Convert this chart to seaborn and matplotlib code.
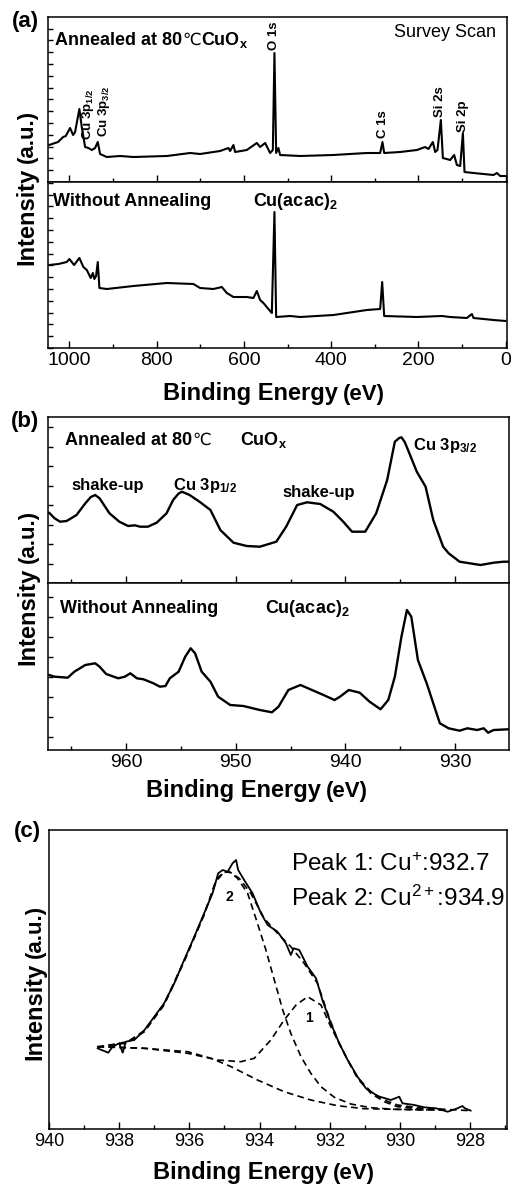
import numpy as np
import pandas as pd
import matplotlib
matplotlib.use("Agg")
import matplotlib.pyplot as plt
import seaborn as sns
from matplotlib.ticker import MultipleLocator, NullLocator, NullFormatter

# ---------------- data ----------------
# (a) survey scan, annealed CuOx
surv_ann_E = [1046.5, 1025.9, 1014.4, 1008.2, 998.4, 991.5, 986.9, 977.1, 971.6, 964.0,
              956.4, 948.6, 941.1, 934.9, 929.6, 914.3, 883.8, 853.3, 776.7, 723.3,
              700.4, 654.5, 635.5, 631.6, 624.0, 620.1, 593.3, 570.4, 562.8, 551.3,
              539.9, 533.7, 530.0, 526.1, 520.9, 517.0, 471.1, 395.5, 318.2, 287.7,
              282.4, 278.5, 241.9, 203.6, 184.5, 177.0, 166.9, 161.6, 156.3, 148.6,
              144.0, 127.2, 118.1, 111.9, 104.3, 98.1, 94.4, 73.8, 28.0, 20.2, 12.6, 0.0]
surv_ann_I = [37, 40, 45, 46, 54, 47, 50, 73, 55, 35,
              34, 32, 34, 40, 28, 25, 26, 25, 26, 29,
              28, 31, 34, 31, 37, 30, 32, 39, 35, 39,
              29, 32, 129, 29, 34, 27, 26, 27, 29, 29,
              40, 29, 30, 32, 35, 33, 40, 30, 32, 62,
              24, 22, 27, 17, 16, 49, 10, 9, 7, 9, 6, 6]

# (a) survey scan, Cu(acac)2 without annealing
surv_raw_E = [1046.5, 1025.2, 1006.0, 1000.0, 989.2, 977.1, 967.9, 960.1, 951.0, 946.3,
              942.7, 938.8, 934.9, 931.2, 914.3, 853.3, 776.7, 715.7, 700.4, 669.9,
              650.6, 639.2, 624.0, 593.3, 578.2, 570.4, 562.8, 555.3, 539.9, 536.0,
              530.0, 526.1, 494.0, 471.1, 394.7, 318.2, 287.7, 283.1, 278.5, 203.6,
              146.3, 127.2, 89.0, 77.5, 73.8, 28.0, 0.0]
surv_raw_I = [83, 84, 86, 89, 83, 90, 81, 78, 70, 75,
              69, 72, 86, 60, 59, 62, 65, 64, 60, 59,
              61, 55, 51, 51, 50, 57, 48, 45, 37, 35,
              136, 31, 32, 31, 33, 38, 39, 66, 32, 31,
              32, 31, 30, 34, 30, 28, 27]

# (b) Cu 3p region, annealed CuOx
cu_ann_E = [967.0, 966.5, 966.0, 965.4, 964.5, 963.7, 963.2, 962.8, 962.4, 961.5, 960.6,
            959.8, 959.2, 958.7, 958.0, 957.2, 956.3, 955.7, 955.2, 954.9, 954.2, 953.3,
            952.3, 951.4, 950.2, 949.0, 947.8, 946.3, 945.4, 944.4, 943.5, 942.3,
            941.1, 940.2, 939.4, 938.2, 937.2, 936.2, 935.5, 935.1, 934.9, 934.6, 934.3, 933.5,
            932.7, 932.0, 931.1, 930.6, 929.6, 927.7, 926.5, 925.6, 925.1]
cu_ann_I = [70.3, 64.7, 61.3, 62.0, 68.0, 79.7, 86.0, 88.0, 84.7, 69.7, 61.3,
            57.0, 57.7, 56.3, 56.3, 60.3, 69.7, 83.0, 89.5, 91.3, 88.0, 81.3,
            73.0, 53.0, 40.3, 37.0, 36.3, 41.3, 56.3, 78.0, 80.7, 79.0,
            71.3, 61.3, 51.3, 51.3, 69.7, 103.0, 141.3, 145.0, 145.7, 141.0, 133.0, 111.3,
            96.3, 63.0, 36.3, 29.7, 21.3, 18.0, 20.3, 21.3, 21.3]

# (b) Cu 3p region, Cu(acac)2
cu_raw_E = [967.0, 966.5, 965.3, 964.7, 963.7, 962.8, 962.4, 961.8, 960.7, 960.1,
            959.6, 959.0, 958.4, 957.5, 956.9, 956.4, 956.0, 955.2, 954.6, 954.1,
            953.7, 953.1, 952.3, 951.6, 950.5, 949.3, 947.8, 946.7, 946.1, 945.2,
            944.1, 943.2, 942.0, 941.0, 940.5, 939.7, 938.7, 937.8, 936.8, 936.1,
            935.5, 934.9, 934.4, 934.0, 933.4, 932.6, 931.8, 931.4, 930.6, 929.6,
            928.9, 928.0, 927.4, 927.0, 926.5, 925.2]
cu_raw_I = [75.0, 73.3, 72.3, 78.3, 85.0, 86.7, 83.3, 76.0, 71.7, 73.3,
            76.7, 71.7, 70.7, 66.7, 63.3, 64.0, 71.7, 78.3, 93.3, 101.7,
            96.7, 78.3, 68.3, 53.3, 45.0, 44.0, 40.0, 37.7, 43.3, 60.0,
            65.0, 60.7, 55.0, 50.0, 53.3, 60.0, 57.3, 48.3, 40.7, 50.0,
            73.3, 113.3, 140.0, 133.3, 90.0, 66.7, 40.0, 26.7, 21.7, 19.3,
            21.7, 20.0, 21.7, 17.3, 20.0, 20.7]

# (c) Cu 2p3/2 fit: measured
fit_meas_E = [938.62, 938.31, 938.19, 938.00, 937.90, 937.81, 937.57, 937.28, 937.00, 936.72,
              936.43, 936.15, 935.86, 935.58, 935.34, 935.18, 935.05, 934.91, 934.77, 934.67,
              934.61, 934.44, 934.20, 933.96, 933.77, 933.49, 933.25, 933.11, 933.03, 932.87,
              932.63, 932.39, 932.21, 931.97, 931.73, 931.49, 931.21, 930.97, 930.64, 930.26,
              930.02, 929.93, 929.59, 929.31, 928.97, 928.64, 928.36, 928.22, 928.15, 927.98]
fit_meas_I = [80.7, 76.3, 82.3, 85.7, 76.3, 87.3, 89.0, 99.0, 112.3, 125.7,
              145.7, 169.0, 192.3, 215.7, 235.7, 255.7, 259.0, 257.3, 265.7, 269.0,
              259.0, 249.0, 235.7, 215.7, 204.0, 197.3, 185.7, 174.0, 180.7, 179.0,
              162.3, 150.7, 129.0, 105.7, 85.7, 69.0, 52.3, 40.7, 33.0, 29.0,
              32.3, 25.7, 24.0, 21.7, 20.7, 17.3, 20.7, 23.0, 20.7, 18.3]
# envelope of the fit
fit_env_E = [938.62, 937.76, 937.28, 936.72, 936.15, 935.58, 935.24, 935.01, 934.81, 934.58,
             934.25, 933.87, 933.49, 933.11, 932.73, 932.35, 932.06, 931.78, 931.49, 931.21,
             930.83, 930.45, 930.07, 929.50, 928.74, 927.98]
fit_env_I = [81.7, 87.3, 98.3, 125.0, 168.3, 215.0, 247.3, 257.3, 256.3, 250.7,
             235.7, 210.7, 195.7, 182.3, 165.7, 145.7, 115.7, 89.0, 69.0, 51.7,
             37.3, 29.0, 24.0, 21.3, 19.7, 18.3]
# background
fit_bg_E = [938.62, 937.28, 936.05, 935.38, 934.81, 934.06, 933.30, 932.54, 931.78, 931.02,
            930.16, 929.21, 928.74]
fit_bg_I = [82.3, 80.7, 77.3, 70.7, 62.3, 49.0, 37.3, 29.0, 23.3, 20.3, 19.7, 19.0, 19.0]
# peak 1 (Cu+) on background
fit_p1_E = [938.62, 937.28, 936.05, 935.20, 934.53, 934.15, 933.68, 933.30, 932.96, 932.63,
            932.25, 931.97, 931.73, 931.49, 931.21, 930.83, 930.45, 930.07, 929.50, 928.74]
fit_p1_I = [82.3, 80.7, 75.7, 69.0, 67.3, 70.7, 89.0, 109.0, 124.0, 132.3,
            124.0, 102.3, 85.7, 69.0, 50.7, 35.7, 27.3, 22.3, 20.3, 19.0]
# peak 2 (Cu2+) on background
fit_p2_E = [938.62, 937.81, 937.28, 936.72, 936.15, 935.58, 935.24, 935.05, 934.86, 934.63,
            934.34, 934.06, 933.82, 933.58, 933.34, 933.11, 932.82, 932.54, 932.25, 931.87,
            931.40, 930.83, 930.16, 929.21]
fit_p2_I = [82.3, 85.7, 97.3, 124.0, 167.3, 214.0, 249.0, 256.3, 257.3, 250.7,
            235.7, 205.7, 179.0, 149.0, 119.0, 95.7, 72.3, 55.7, 42.3, 31.7,
            25.0, 21.3, 19.7, 19.0]

survey_ticks = [1000, 800, 600, 400, 200, 0]
cu3p_ticks = [960, 950, 940, 930]
cu2p_ticks = [940, 938, 936, 934, 932, 930, 928]

survey_peaks = [("O 1s", 530.0, 132), ("Cu 3p$_{\\mathbf{1/2}}$", 957.0, 42),
                ("Cu 3p$_{\\mathbf{3/2}}$", 920.4, 45), ("C 1s", 280.8, 44),
                ("Si 2s", 150.2, 65), ("Si 2p", 97.4, 50)]

# ---------------- style ----------------
sns.set_theme(style="ticks")
plt.rcParams["font.family"] = ["Liberation Sans", "DejaVu Sans"]
plt.rcParams["mathtext.fontset"] = "custom"
plt.rcParams["mathtext.rm"] = "Liberation Sans"
plt.rcParams["mathtext.bf"] = "Liberation Sans:bold"
plt.rcParams["mathtext.it"] = "Liberation Sans:italic"
plt.rcParams["axes.linewidth"] = 1.1

W, H = 511, 1185
fig = plt.figure(figsize=(W / 100, H / 100), dpi=100)


def box(l, t, r, b):
    return [l / W, 1 - b / H, (r - l) / W, (b - t) / H]


def fxy(x, y):
    return x / W, 1 - y / H


LW = 1.5
ax_a1 = fig.add_axes(box(48, 17, 507, 182))
ax_a2 = fig.add_axes(box(48, 182, 507, 348))
ax_b1 = fig.add_axes(box(48, 417, 509, 583))
ax_b2 = fig.add_axes(box(48, 583, 509, 750))
ax_c = fig.add_axes(box(49, 830, 507, 1129))


def line(ax, x, y, **kw):
    df = pd.DataFrame({"x": x, "y": y})
    sns.lineplot(data=df, x="x", y="y", ax=ax, color="black", estimator=None,
                 sort=False, **kw)
    ax.set_xlabel("")
    ax.set_ylabel("")


line(ax_a1, surv_ann_E, surv_ann_I, linewidth=LW)
line(ax_a2, surv_raw_E, surv_raw_I, linewidth=LW)
line(ax_b1, cu_ann_E, cu_ann_I, linewidth=LW + 0.2)
line(ax_b2, cu_raw_E, cu_raw_I, linewidth=LW + 0.2)
dash = (0, (4.0, 2.6))
line(ax_c, fit_bg_E, fit_bg_I, linewidth=1.2, linestyle=dash)
line(ax_c, fit_p1_E, fit_p1_I, linewidth=1.2, linestyle=dash)
line(ax_c, fit_p2_E, fit_p2_I, linewidth=1.2, linestyle=dash)
line(ax_c, fit_env_E, fit_env_I, linewidth=1.2, linestyle=dash)
line(ax_c, fit_meas_E, fit_meas_I, linewidth=1.3)

# limits
for ax in (ax_a1, ax_a2):
    ax.set_xlim(1049, -3)
ax_a1.set_ylim(0, 165)
ax_a2.set_ylim(0, 166)
for ax in (ax_b1, ax_b2):
    ax.set_xlim(967.1, 925.1)
ax_b1.set_ylim(0, 166)
ax_b2.set_ylim(0, 167)
ax_c.set_xlim(940, 926.95)
ax_c.set_ylim(0, 299)

# ticks
for ax in (ax_a1, ax_a2, ax_b1, ax_b2, ax_c):
    for s in ax.spines.values():
        s.set_visible(True)
        s.set_color("black")
        s.set_linewidth(1.1)
    ax.tick_params(axis="both", which="both", direction="in", top=False, right=False,
                   colors="black", width=1.0)
    ax.tick_params(axis="x", which="major", length=5, pad=3)
    ax.tick_params(axis="x", which="minor", length=3)
    ax.tick_params(axis="y", which="both", length=3.5)
    ax.yaxis.set_major_formatter(NullFormatter())

ax_a1.set_xticks(survey_ticks)
ax_a2.set_xticks(survey_ticks)
for ax in (ax_a1, ax_a2):
    ax.xaxis.set_minor_locator(MultipleLocator(100))
    ax.yaxis.set_major_locator(MultipleLocator(11.8))
ax_b1.set_xticks(cu3p_ticks)
ax_b2.set_xticks(cu3p_ticks)
for ax in (ax_b1, ax_b2):
    ax.xaxis.set_minor_locator(MultipleLocator(5))
ax_b1.yaxis.set_major_locator(MultipleLocator(19.5))
ax_b2.yaxis.set_major_locator(MultipleLocator(20, offset=13.3))
ax_c.set_xticks(cu2p_ticks)
ax_c.xaxis.set_minor_locator(MultipleLocator(1))
ax_c.yaxis.set_major_locator(NullLocator())

ax_a1.set_xticklabels([])
ax_b1.set_xticklabels([])
ax_a2.set_xticklabels([str(t) for t in survey_ticks], fontsize=14)
ax_b2.set_xticklabels([str(t) for t in cu3p_ticks], fontsize=14)
ax_c.set_xticklabels([str(t) for t in cu2p_ticks], fontsize=13)

# ---------------- texts ----------------
BF = dict(fontweight="bold", color="black")


def ftext(x, y, s, **kw):
    return fig.text(*fxy(x, y), s, **kw)


renderer = fig.canvas.get_renderer()

# panel letters
ftext(25, 22, "(a)", fontsize=16, ha="center", va="center", **BF)
ftext(25, 421, "(b)", fontsize=16, ha="center", va="center", **BF)
ftext(27, 832, "(c)", fontsize=16, ha="center", va="center", **BF)

# axis labels: "Binding Energy" + slightly smaller "(eV)"
for (x0, y) in [(163, 400), (146, 797), (153, 1179)]:
    t = ftext(x0, y, "Binding Energy", fontsize=17, ha="left", va="baseline", **BF)
    ext = t.get_window_extent(renderer)
    fig.text((ext.x1 + 5) / W, 1 - y / H, "(eV)", fontsize=16, ha="left",
             va="baseline", **BF)

# y labels: "Intensity" + slightly smaller "(a.u.)", rotated
for (x, yc) in [(27, 183), (28, 583), (35, 978)]:
    y_bottom = yc + 82
    t = ftext(x, y_bottom, "Intensity", fontsize=17, ha="center", va="bottom",
              rotation=90, **BF)
    ext = t.get_window_extent(renderer)
    fig.text(x / W, (ext.y1 + 5) / H, "(a.u.)", fontsize=16, ha="center",
             va="bottom", rotation=90, **BF)

# panel (a) labels
ftext(55, 45, "Annealed at 80", fontsize=13, ha="left", va="baseline", **BF)
ftext(182, 45, "\u2103", fontsize=12, ha="left", va="baseline", color="black",
      family="DejaVu Sans")
ftext(201, 45, "CuO$_{\\mathbf{x}}$", fontsize=13, ha="left", va="baseline", **BF)
ftext(394, 37, "Survey Scan", fontsize=13, ha="left", va="baseline", color="black")
ftext(53, 206, "Without Annealing", fontsize=13, ha="left", va="baseline", **BF)
ftext(253, 206, "Cu(acac)$_{\\mathbf{2}}$", fontsize=13, ha="left", va="baseline", **BF)
for lab, e, i in survey_peaks:
    ax_a1.text(e, i, lab, rotation=90, ha="center", va="bottom", fontsize=9.5, **BF)

# panel (b) labels
ftext(65, 445, "Annealed at 80", fontsize=13, ha="left", va="baseline", **BF)
ftext(192, 445, "\u2103", fontsize=12, ha="left", va="baseline", color="black",
      family="DejaVu Sans")
ftext(240, 445, "CuO$_{\\mathbf{x}}$", fontsize=13, ha="left", va="baseline", **BF)
ftext(108, 490, "shake-up", fontsize=12, ha="center", va="baseline", **BF)
ftext(173, 490, "Cu 3p$_{\\mathbf{1/2}}$", fontsize=12, ha="left", va="baseline", **BF)
ftext(319, 497, "shake-up", fontsize=12, ha="center", va="baseline", **BF)
ftext(413, 450, "Cu 3p$_{\\mathbf{3/2}}$", fontsize=12, ha="left", va="baseline", **BF)
ftext(60, 613, "Without Annealing", fontsize=13, ha="left", va="baseline", **BF)
ftext(265, 613, "Cu(acac)$_{\\mathbf{2}}$", fontsize=13, ha="left", va="baseline", **BF)

# panel (c) labels
ftext(291, 871, "Peak 1: Cu$^{+}$:932.7", fontsize=17.5, ha="left", va="baseline",
      color="black")
ftext(291, 906, "Peak 2: Cu$^{2+}$:934.9", fontsize=17.5, ha="left", va="baseline",
      color="black")
ax_c.text(934.86, 232, "2", fontsize=10, ha="center", va="center", **BF)
ax_c.text(932.58, 110.7, "1", fontsize=10, ha="center", va="center", **BF)

fig.savefig("out.png", dpi=100, facecolor="white")
